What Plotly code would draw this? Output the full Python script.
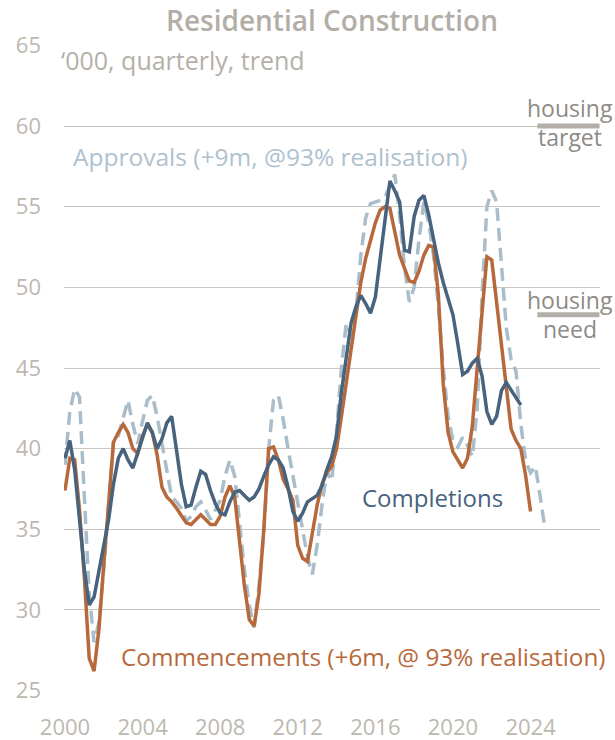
import numpy as np
import plotly.graph_objects as go

# ---- data ('000, quarterly, trend), quarterly from 2000 Q1 ----
start_year = 2000
completions = [39.4, 40.5, 38.7, 35.6, 32.5, 30.3, 30.8, 32.4, 34.0, 35.6,
               37.8, 39.4, 40.0, 39.3, 38.8, 39.7, 40.7, 41.6, 41.0, 40.0,
               40.6, 41.6, 42.0, 39.8, 37.8, 36.4, 36.5, 37.6, 38.6, 38.4,
               37.4, 36.6, 36.0, 35.9, 36.7, 37.3, 37.4, 37.1, 36.8, 37.0,
               37.5, 38.3, 39.0, 39.5, 39.3, 38.8, 37.6, 36.1, 35.5, 36.0,
               36.7, 36.9, 37.1, 37.7, 38.7, 39.5, 40.8, 43.5, 45.8, 47.8,
               48.8, 49.5, 49.0, 48.4, 49.4, 51.8, 54.3, 56.6, 56.0, 55.3,
               52.3, 52.2, 54.4, 55.4, 55.7, 54.5, 53.0, 51.5, 50.3, 49.3,
               48.3, 46.5, 44.6, 44.8, 45.3, 45.6, 44.5, 42.3, 41.5, 42.0,
               43.6, 44.1, 43.6, 43.2, 42.7]
commencements = [37.4, 39.4, 39.3, 36.2, 32.0, 27.0, 26.2, 28.8, 32.8, 36.8,
                 40.4, 41.0, 41.5, 41.0, 40.0, 39.7, 40.8, 41.5, 41.0, 39.6,
                 37.6, 37.0, 36.7, 36.3, 35.8, 35.4, 35.3, 35.6, 35.9, 35.6,
                 35.3, 35.3, 35.8, 37.0, 37.7, 37.0, 34.0, 31.5, 29.4, 29.0,
                 31.0, 35.0, 40.0, 40.1, 39.3, 38.1, 37.5, 36.8, 34.0, 33.2,
                 33.0, 34.8, 36.5, 37.8, 38.5, 38.9, 40.0, 42.0, 44.0, 46.0,
                 48.3, 50.3, 51.8, 53.0, 54.0, 54.8, 55.0, 54.9, 53.5, 52.0,
                 51.2, 50.4, 50.3, 51.0, 52.0, 52.6, 52.5, 49.5, 44.0, 41.0,
                 39.8, 39.3, 38.8, 39.4, 41.4, 45.0, 48.6, 51.9, 51.7, 49.0,
                 46.2, 43.5, 41.2, 40.5, 40.0, 38.3, 36.1]
approvals = [39.0, 42.3, 43.7, 43.2, 37.0, 31.0, 28.0, 29.2, 32.5, 36.6,
             40.5, 40.8, 42.0, 43.0, 41.5, 40.3, 41.7, 43.0, 43.3, 42.0,
             40.3, 38.5, 37.0, 36.7, 36.3, 35.5, 35.8, 36.4, 36.7, 36.2,
             35.6, 36.2, 36.8, 38.3, 39.3, 38.3, 35.5, 32.5, 30.3, 28.9,
             31.5, 34.8, 40.0, 43.0, 43.3, 41.8, 40.0, 38.3, 36.8, 35.0,
             33.3, 32.2, 34.0, 36.5, 38.6, 38.0, 41.0, 45.0, 47.8, 47.0,
             48.5, 52.0, 54.3, 55.2, 55.3, 55.4, 55.6, 56.3, 57.0, 54.5,
             51.3, 49.1, 50.0, 53.0, 55.3, 54.0, 52.0, 48.8, 45.0, 42.0,
             40.5, 40.1, 40.7, 40.2, 39.5, 42.5, 49.5, 55.0, 56.0, 55.3,
             51.5, 47.5, 45.5, 44.8, 41.5, 39.2, 38.5, 38.9, 37.0, 35.0]
housing_target = 60.0
housing_need = 48.3
y_ticks = [25, 30, 35, 40, 45, 50, 55, 60, 65]
x_ticks = [2000, 2004, 2008, 2012, 2016, 2020, 2024]


def qx(vals):
    return start_year + np.arange(len(vals)) / 4.0


BLUE = "#47637d"
ORANGE = "#b7693c"
LIGHT = "#a9bdcb"
GREY = "#b4b0a8"
DARK_GREY = "#8d8b87"
FONT = "Open Sans"

# plot area in pixels
PL, PR, PT, PB = 64, 600, 45, 691

fig = go.Figure()
fig.add_trace(go.Scatter(x=qx(approvals), y=approvals, mode="lines",
                         line=dict(color=LIGHT, width=3.5, dash="13px,7px"),
                         hoverinfo="skip"))
fig.add_trace(go.Scatter(x=qx(commencements), y=commencements, mode="lines",
                         line=dict(color=ORANGE, width=3.5), hoverinfo="skip"))
fig.add_trace(go.Scatter(x=qx(completions), y=completions, mode="lines",
                         line=dict(color=BLUE, width=3.5), hoverinfo="skip"))
# housing target / need markers
for val in (housing_target, housing_need):
    fig.add_trace(go.Scatter(x=[2024.35, 2027.55], y=[val, val], mode="lines",
                             line=dict(color="#b3afa8", width=5),
                             hoverinfo="skip"))

ann = []
def add_text(text, px, py, color, size=24, anchor="left"):
    ann.append(dict(text=text, xref="paper", yref="paper",
                    x=(px - PL) / float(PR - PL), y=(PB - py) / float(PB - PT),
                    xanchor=anchor, yanchor="middle", showarrow=False,
                    borderpad=0,
                    font=dict(family=FONT, size=size, color=color)))

add_text("\u2018000, quarterly, trend", 60, 60, GREY, 25)
add_text("Approvals (+9m, @93% realisation)", 72, 156, "#b0c1ce", 24.5)
add_text("Completions", 361, 497, BLUE, 24)
add_text("Commencements (+6m, @ 93% realisation)", 120, 656, ORANGE, 24.3)
add_text("housing", 570, 108, DARK_GREY, 23, "center")
add_text("target", 570, 137, DARK_GREY, 23, "center")
add_text("housing", 570, 300, DARK_GREY, 23, "center")
add_text("need", 570, 329, DARK_GREY, 23, "center")

fig.update_layout(
    width=615, height=740,
    margin=dict(l=PL, r=615 - PR, t=PT, b=740 - PB, autoexpand=False),
    paper_bgcolor="white", plot_bgcolor="white",
    showlegend=False,
    title=dict(text="Residential Construction", x=0.5, xref="paper",
               y=1 - 21 / 740, yref="container", yanchor="middle",
               xanchor="center",
               font=dict(family=FONT, size=28, weight=600, color="#b2aea6")),
    annotations=ann,
    xaxis=dict(range=[1999.95, 2027.58], tickvals=x_ticks,
               ticktext=[str(t) for t in x_ticks], showgrid=False,
               zeroline=False, showline=False, ticks="", automargin=False,
               tickfont=dict(family=FONT, size=22, color="#bcb8b0"),
               ticklabelstandoff=21),
    yaxis=dict(range=[24.97, 65.03], tickvals=y_ticks, showgrid=True,
               gridcolor="#cbc7c0", gridwidth=1.3, zeroline=False,
               showline=False, ticks="", automargin=False,
               tickfont=dict(family=FONT, size=22, color="#bcb8b0"),
               ticklabelstandoff=22),
)

fig.write_html("out.html", config={"displayModeBar": False},
               post_script="document.body.style.margin='0';"
                           "document.body.style.overflow='hidden';")
